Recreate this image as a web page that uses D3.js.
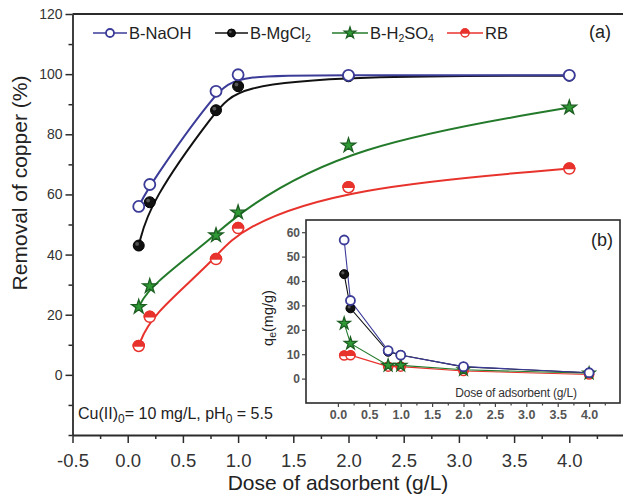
<!DOCTYPE html>
<html><head><meta charset="utf-8">
<script src="https://cdn.jsdelivr.net/npm/d3@7"></script>
<style>
html,body{margin:0;padding:0;background:#fff;}
svg{display:block;font-family:"Liberation Sans",Arial,sans-serif;}
</style></head><body>
<svg id="chart" width="623" height="497"></svg>
<script>
// Adsorbent dose (g/L)
const doses = [0.1, 0.2, 0.8, 1.0, 2.0, 4.0];

// Removal of copper (%) for each adsorbent
const removalNaOH  = [56, 63.3, 94.3, 99.8, 99.6, 99.6];
const removalMgCl2 = [43, 57.4, 88, 96, 99.3, 99.5];
const removalH2SO4 = [22.6, 29.5, 46.4, 54, 76.3, 88.9];
const removalRB    = [9.6, 19.3, 38.5, 48.8, 62.4, 68.6];

// Adsorption capacity q_e (mg/g) for the inset
const qeNaOH  = [56.8, 32, 11.5, 9.6, 4.9, 2.4];
const qeMgCl2 = [42.8, 28.8, 11, 9.7, 4.8, 2.4];
const qeH2SO4 = [22.6, 14.4, 5.4, 5.4, 3.6, 2.2];
const qeRB    = [9.5, 9.6, 4.9, 4.9, 3.1, 1.7];

// Tick values
const xMajorTicks = [-0.5, 0, 0.5, 1.0, 1.5, 2.0, 2.5, 3.0, 3.5, 4.0];
const xMinorTicks = [-0.25, 0.25, 0.75, 1.25, 1.75, 2.25, 2.75, 3.25, 3.75, 4.25];
const yMajorTicks = [0, 20, 40, 60, 80, 100, 120];
const yMinorTicks = [-20, -10, 10, 30, 50, 70, 90, 110];
const insetYTicks = [0, 10, 20, 30, 40, 50, 60];
const insetXTicks = [0, 0.5, 1.0, 1.5, 2.0, 2.5, 3.0, 3.5, 4.0];
const insetXMinor = [0.25, 0.75, 1.25, 1.75, 2.25, 2.75, 3.25, 3.75, 4.25];

const series = [
  {key: "RB",    removal: removalRB,    qe: qeRB,    color: "#e8322c", marker: "half"},
  {key: "H2SO4", removal: removalH2SO4, qe: qeH2SO4, color: "#237a2a", marker: "star"},
  {key: "MgCl2", removal: removalMgCl2, qe: qeMgCl2, color: "#111111", marker: "dot"},
  {key: "NaOH",  removal: removalNaOH,  qe: qeNaOH,  color: "#3b3b98", marker: "open"}
];

const svg = d3.select("#chart");
const axisColor = "#2b2b2b";

// ---------- main panel ----------
const x = d3.scaleLinear().domain([-0.5, 4.5]).range([72.5, 624.5]);
const y = d3.scaleLinear().domain([-20, 120]).range([435, 14]);

function drawMarker(g, kind, r, color) {
  if (kind === "open") {
    g.append("circle").attr("r", r).attr("fill", "#fff").attr("stroke", color).attr("stroke-width", 1.8);
  } else if (kind === "dot") {
    g.append("circle").attr("r", r).attr("fill", "#111").attr("stroke", "#000").attr("stroke-width", 1);
    g.append("circle").attr("r", r * 0.35).attr("cx", -r * 0.3).attr("cy", -r * 0.3).attr("fill", "#555");
  } else if (kind === "half") {
    g.append("circle").attr("r", r).attr("fill", "#fff").attr("stroke", color).attr("stroke-width", 1.5);
    g.append("path").attr("d", `M${-r},0A${r},${r} 0 0 1 ${r},0Z`).attr("fill", color)
      .attr("stroke", color).attr("stroke-width", 1.5);
  } else if (kind === "star") {
    const size = r * r / 0.8908;
    g.append("path").attr("d", d3.symbol(d3.symbolStar, size)())
      .attr("fill", "#2f9a35").attr("stroke", "#1d5e22").attr("stroke-width", 1.3);
  }
}

const mainLine = d3.line().x((d, i) => x(doses[i])).y(d => y(d)).curve(d3.curveBasis);

const curves = svg.append("g");
series.forEach(s => {
  curves.append("path").datum(s.removal).attr("d", mainLine)
    .attr("fill", "none").attr("stroke", s.color).attr("stroke-width", 2);
});
series.forEach(s => {
  const r = s.marker === "star" ? 7.5 : 5.5;
  s.removal.forEach((v, i) => {
    const g = curves.append("g").attr("transform", `translate(${x(doses[i])},${y(v)})`);
    drawMarker(g, s.marker, r, s.color);
  });
});

// frame lines
svg.append("line").attr("x1", x(-0.5)).attr("x2", x(4.5)).attr("y1", y(120)).attr("y2", y(120))
  .attr("stroke", axisColor).attr("stroke-width", 1.8);
svg.append("line").attr("x1", x(4.5)).attr("x2", x(4.5)).attr("y1", y(120)).attr("y2", y(-20))
  .attr("stroke", axisColor).attr("stroke-width", 1.8);

// bottom axis
const xAxisG = svg.append("g").attr("transform", `translate(0,${y(-20)})`);
xAxisG.call(d3.axisBottom(x).tickValues(xMajorTicks).tickSize(8).tickSizeOuter(0).tickFormat(d => d.toFixed(1)));
xAxisG.append("g").call(d3.axisBottom(x).tickValues(xMinorTicks).tickSize(4).tickFormat(""))
  .select(".domain").remove();
xAxisG.selectAll(".domain").attr("stroke", axisColor).attr("stroke-width", 1.8);
xAxisG.selectAll("line").attr("stroke", axisColor).attr("stroke-width", 1.5);
xAxisG.selectAll("text").attr("font-size", 18.5).attr("fill", "#333").attr("dy", "1.15em")
  .attr("font-family", "Liberation Sans, Arial, sans-serif");

// left axis
const yAxisG = svg.append("g").attr("transform", `translate(${x(-0.5)},0)`);
yAxisG.call(d3.axisLeft(y).tickValues(yMajorTicks).tickSize(7).tickSizeOuter(0));
yAxisG.append("g").call(d3.axisLeft(y).tickValues(yMinorTicks).tickSize(4).tickFormat(""))
  .select(".domain").remove();
yAxisG.selectAll(".domain").attr("stroke", axisColor).attr("stroke-width", 1.8);
yAxisG.selectAll("line").attr("stroke", axisColor).attr("stroke-width", 1.5);
yAxisG.selectAll("text").attr("font-size", 14).attr("fill", "#333").attr("x", -10)
  .attr("font-family", "Liberation Sans, Arial, sans-serif");

// axis titles
svg.append("text").attr("x", 338).attr("y", 490).attr("text-anchor", "middle")
  .attr("font-size", 21).attr("fill", "#222").text("Dose of adsorbent (g/L)");
svg.append("text").attr("transform", "translate(27,183) rotate(-90)").attr("text-anchor", "middle")
  .attr("font-size", 21).attr("fill", "#222").text("Removal of copper (%)");

// conditions note
const note = svg.append("text").attr("x", 78).attr("y", 419).attr("font-size", 16).attr("fill", "#222");
note.append("tspan").text("Cu(II)");
note.append("tspan").attr("font-size", 12).attr("dy", 4).text("0");
note.append("tspan").attr("dy", -4).text("= 10 mg/L, pH");
note.append("tspan").attr("font-size", 12).attr("dy", 4).text("0");
note.append("tspan").attr("dy", -4).text(" = 5.5");

// panel label
svg.append("text").attr("x", 589).attr("y", 38).attr("font-size", 18).attr("fill", "#222").text("(a)");

// legend
const legendItems = [
  {s: series[3], x0: 93,  x1: 127, label: [["B-NaOH", false]]},
  {s: series[2], x0: 215, x1: 248, label: [["B-MgCl", false], ["2", true]]},
  {s: series[1], x0: 332, x1: 368, label: [["B-H", false], ["2", true], ["SO", false], ["4", true]]},
  {s: series[0], x0: 447, x1: 483, label: [["RB", false]]}
];
const legendY = 33;
legendItems.forEach(it => {
  svg.append("line").attr("x1", it.x0).attr("x2", it.x1).attr("y1", legendY).attr("y2", legendY)
    .attr("stroke", it.s.color).attr("stroke-width", 1.6);
  const g = svg.append("g").attr("transform", `translate(${(it.x0 + it.x1) / 2},${legendY})`);
  drawMarker(g, it.s.marker, it.s.marker === "star" ? 6 : 4, it.s.color);
  const t = svg.append("text").attr("x", it.x1 + 2).attr("y", legendY + 6).attr("font-size", 16.5).attr("fill", "#222");
  let sub = false;
  it.label.forEach(([txt, isSub]) => {
    const ts = t.append("tspan").text(txt);
    if (isSub && !sub) { ts.attr("font-size", 10.5).attr("dy", 3); sub = true; }
    else if (!isSub && sub) { ts.attr("dy", -3); sub = false; }
  });
});

// ---------- inset ----------
const xi = d3.scaleLinear().domain([-0.5, 4.5]).range([306.5, 620.5]);
const yi = d3.scaleLinear().domain([-10, 65]).range([403, 220]);

svg.append("rect").attr("x", 306).attr("y", 220).attr("width", 314).attr("height", 183)
  .attr("fill", "#fff").attr("stroke", axisColor).attr("stroke-width", 1.6);

const insetLine = d3.line().x((d, i) => xi(doses[i])).y(d => yi(d));
const inset = svg.append("g");
series.forEach(s => {
  inset.append("path").datum(s.qe).attr("d", insetLine)
    .attr("fill", "none").attr("stroke", s.color).attr("stroke-width", 1.1);
});
series.forEach(s => {
  const r = s.marker === "star" ? 6.5 : 4.5;
  s.qe.forEach((v, i) => {
    const g = inset.append("g").attr("transform", `translate(${xi(doses[i])},${yi(v)})`);
    drawMarker(g, s.marker, r, s.color);
  });
});

// inset axes
const xiAxis = svg.append("g").attr("transform", "translate(0,403)");
xiAxis.call(d3.axisBottom(xi).tickValues(insetXTicks).tickSize(4).tickFormat(d => d.toFixed(1)));
xiAxis.append("g").call(d3.axisBottom(xi).tickValues(insetXMinor).tickSize(2.5).tickFormat(""));
xiAxis.selectAll(".domain").remove();
xiAxis.selectAll("line").attr("stroke", "#444").attr("stroke-width", 1.2);
xiAxis.selectAll("text").attr("font-size", 12.5).attr("font-weight", "bold").attr("fill", "#555")
  .attr("y", 4).attr("dy", "0.95em").attr("font-family", "Liberation Sans, Arial, sans-serif");

const yiAxis = svg.append("g").attr("transform", "translate(306,0)");
yiAxis.call(d3.axisLeft(yi).tickValues(insetYTicks).tickSize(4));
yiAxis.selectAll(".domain").remove();
yiAxis.selectAll("line").attr("stroke", "#444").attr("stroke-width", 1.2);
yiAxis.selectAll("text").attr("font-size", 12).attr("font-weight", "bold").attr("fill", "#555")
  .attr("x", -6).attr("font-family", "Liberation Sans, Arial, sans-serif");

// inset labels
const qt = svg.append("text").attr("transform", "translate(273,318) rotate(-90)").attr("text-anchor", "middle")
  .attr("font-size", 14.5).attr("fill", "#222");
qt.append("tspan").text("q");
qt.append("tspan").attr("font-size", 10.5).attr("dy", 3).text("e");
qt.append("tspan").attr("dy", -3).text("(mg/g)");

svg.append("text").attr("x", 516).attr("y", 397).attr("text-anchor", "middle")
  .attr("font-size", 12).attr("letter-spacing", -0.2).attr("fill", "#333").text("Dose of adsorbent (g/L)");
svg.append("text").attr("x", 591).attr("y", 246).attr("font-size", 18).attr("fill", "#222").text("(b)");
</script>
</body></html>
